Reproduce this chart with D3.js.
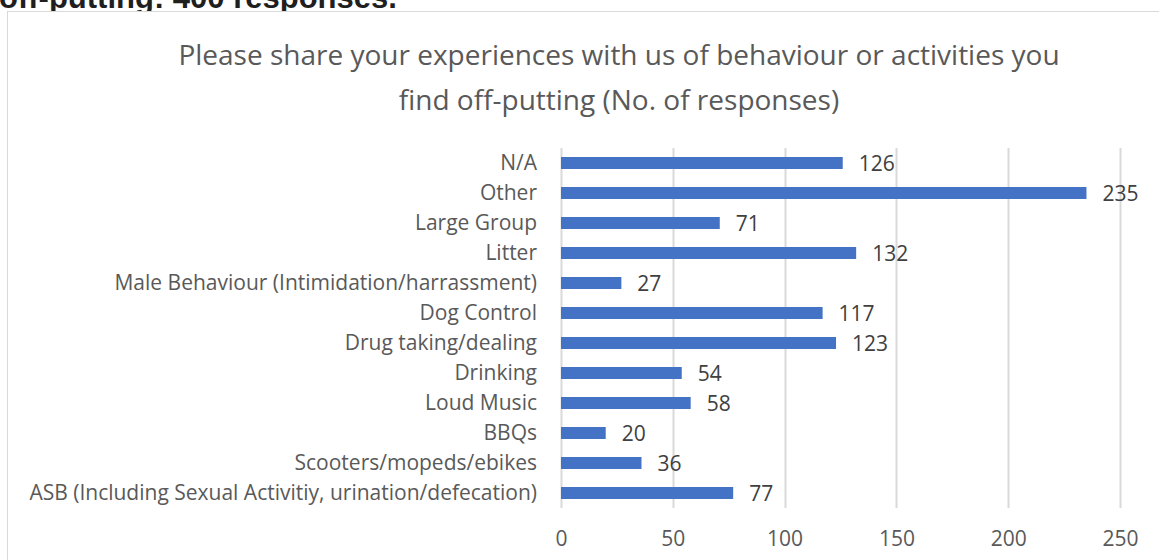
<!DOCTYPE html>
<html>
<head>
<meta charset="utf-8">
<script src="https://cdn.jsdelivr.net/npm/d3@7"></script>
<style>
  html, body { margin: 0; padding: 0; background: #fff; }
  svg { display: block; }
</style>
</head>
<body>
<svg id="chart" width="1159" height="560"></svg>
<script>
// Survey answers: behaviour or activities respondents find off-putting
const categories = [
  "N/A",
  "Other",
  "Large Group",
  "Litter",
  "Male Behaviour (Intimidation/harrassment)",
  "Dog Control",
  "Drug taking/dealing",
  "Drinking",
  "Loud Music",
  "BBQs",
  "Scooters/mopeds/ebikes",
  "ASB (Including Sexual Activitiy, urination/defecation)"
];
const responses = [126, 235, 71, 132, 27, 117, 123, 54, 58, 20, 36, 77];
const tickValues = [0, 50, 100, 150, 200, 250];
const titleLines = [
  "Please share your experiences with us of behaviour or activities you",
  "find off-putting (No. of responses)"
];
const headingText = "off-putting: 400 responses.";

const svg = d3.select("#chart");
const W = 1159, H = 560;
const font = "'Open Sans', 'Noto Sans', sans-serif";

// Heading of the surrounding document, partly above the frame
svg.append("text")
  .attr("x", -1)
  .attr("y", 8)
  .attr("font-family", "'Liberation Sans', Arial, sans-serif")
  .attr("font-weight", "bold")
  .attr("font-size", 31)
  .attr("fill", "#1f1f1f")
  .text(headingText);

// Chart frame
svg.append("rect")
  .attr("x", 7.5).attr("y", 11.5)
  .attr("width", W).attr("height", H)
  .attr("fill", "#fff")
  .attr("stroke", "#d9d9d9")
  .attr("stroke-width", 1);

// Title
const title = svg.append("text")
  .attr("text-anchor", "middle")
  .attr("font-family", font)
  .attr("font-size", 28)
  .attr("fill", "#595959");
titleLines.forEach((line, i) => {
  title.append("tspan")
    .attr("x", 619)
    .attr("y", 65 + i * 45)
    .text(line);
});

// Plot area
const plot = { left: 561, right: 1120, top: 148, bottom: 508 };

const x = d3.scaleLinear()
  .domain([0, 250])
  .range([plot.left, plot.right]);

const y = d3.scaleBand()
  .domain(categories)
  .range([plot.top, plot.bottom])
  .paddingInner(0.6)
  .paddingOuter(0.3);

// Vertical gridlines
svg.append("g")
  .selectAll("line")
  .data(tickValues)
  .join("line")
  .attr("x1", d => Math.round(x(d)) + 0.5)
  .attr("x2", d => Math.round(x(d)) + 0.5)
  .attr("y1", plot.top)
  .attr("y2", plot.bottom)
  .attr("stroke", "#d9d9d9")
  .attr("stroke-width", 2);

// Bars
svg.append("g")
  .selectAll("rect")
  .data(responses)
  .join("rect")
  .attr("x", x(0))
  .attr("y", (d, i) => y(categories[i]))
  .attr("width", d => x(d) - x(0))
  .attr("height", y.bandwidth())
  .attr("fill", "#4472c4");

// Value labels
svg.append("g")
  .selectAll("text")
  .data(responses)
  .join("text")
  .attr("x", d => x(d) + 16)
  .attr("y", (d, i) => y(categories[i]) + y.bandwidth() / 2 + 1)
  .attr("dy", "0.35em")
  .attr("font-family", font)
  .attr("font-size", 21)
  .attr("fill", "#404040")
  .text(d => d);

// Category axis labels
const yAxis = d3.axisLeft(y).tickSize(0).tickPadding(0);
const yg = svg.append("g")
  .attr("transform", `translate(${537},0)`)
  .call(yAxis);
yg.select(".domain").remove();
yg.selectAll("text")
  .attr("dy", "0.35em")
  .attr("font-family", font)
  .attr("font-size", 21)
  .attr("fill", "#595959");

// Value axis labels
const xAxis = d3.axisBottom(x).tickValues(tickValues).tickSize(0).tickPadding(0);
const xg = svg.append("g")
  .attr("transform", `translate(0,${539})`)
  .call(xAxis);
xg.select(".domain").remove();
xg.selectAll("text")
  .attr("y", 0)
  .attr("dy", "0.35em")
  .attr("font-family", font)
  .attr("font-size", 21)
  .attr("fill", "#595959");
</script>
</body>
</html>
